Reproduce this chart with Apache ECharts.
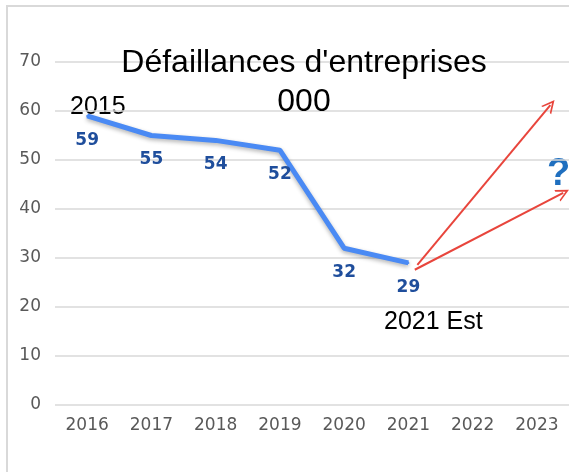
<!DOCTYPE html>
<html><head><meta charset="utf-8">
<script src="https://cdn.jsdelivr.net/npm/echarts@6/dist/echarts.min.js"></script>
<style>
html,body{margin:0;padding:0;background:#fff;overflow:hidden;}
#frame{position:absolute;left:6px;top:5px;width:640px;height:560px;border:2px solid #d9d9d9;box-sizing:border-box;}
#c{position:absolute;left:0;top:0;width:569px;height:472px;}
</style></head>
<body><div id="frame"></div><div id="c"></div>
<script>
const years = ['2016','2017','2018','2019','2020','2021','2022','2023'];
const values = [59, 55, 54, 52, 32, 29];
const yTicks = [0, 10, 20, 30, 40, 50, 60, 70];
// arrow annotations in [category index, value]
const arrowHigh = [[5.14, 28.6], [7.21, 61.2]];
const arrowLow = [[5.10, 27.6], [7.41, 43.3]];
const titleText = "Défaillances d'entreprises\n000";
const noteStart = '2015';
const noteEnd = '2021 Est';
const noteQ = '?';

const chart = echarts.init(document.getElementById('c'), null, {renderer:'canvas'});
const openArrow = 'path://M0,10 L5,0 L10,10 L8.6,10 L5,3 L1.4,10 Z';
chart.setOption({
  backgroundColor: 'transparent',
  animation: false,
  title: {
    text: titleText, left: 299, top: 39, textAlign: 'center',
    textStyle: {fontFamily: 'Liberation Sans, Arial', fontWeight: 'normal', fontSize: 32, color: '#000', lineHeight: 39}
  },
  grid: {left: 55, right: 0, top: 62, bottom: 67},
  xAxis: [{
    type: 'category', data: years, boundaryGap: true,
    axisLine: {show: false}, axisTick: {show: false},
    axisLabel: {color: '#595959', fontSize: 17, margin: 12, fontFamily: 'DejaVu Sans'}
  }, {
    type: 'value', min: -0.5, max: 7.5, show: false
  }],
  yAxis: {
    type: 'value', min: yTicks[0], max: yTicks[yTicks.length-1], interval: 10,
    axisLine: {show: false}, axisTick: {show: false},
    axisLabel: {color: '#595959', fontSize: 17, margin: 14, fontFamily: 'DejaVu Sans'},
    splitLine: {lineStyle: {color: '#d9d9d9', width: 1.5}}
  },
  series: [{
    type: 'line', data: values, xAxisIndex: 0,
    symbol: 'circle', symbolSize: 2, showSymbol: true,
    itemStyle: {color: '#4a8af4'},
    lineStyle: {color: '#4a8af4', width: 5, shadowColor: 'rgba(0,0,0,0.3)', shadowBlur: 4, shadowOffsetY: 2},
    label: {show: true, position: 'bottom', distance: 15, color: '#1f4e9c', fontWeight: 'bold', fontSize: 17, fontFamily: 'DejaVu Sans'}
  }, {
    type: 'lines', coordinateSystem: 'cartesian2d', xAxisIndex: 1, yAxisIndex: 0,
    symbol: ['none', openArrow], symbolSize: [15, 13],
    lineStyle: {color: '#e8453c', width: 2, opacity: 1, curveness: 0},
    data: [{coords: arrowHigh}, {coords: arrowLow}]
  }],
  graphic: [
    {type: 'text', left: 70, top: 95, style: {text: noteStart, font: '25px "Liberation Sans", Arial', fill: '#000'}},
    {type: 'text', left: 384, top: 310, style: {text: noteEnd, font: '25px "Liberation Sans", Arial', fill: '#000'}},
    {type: 'text', left: 547, top: 156, style: {text: noteQ, font: 'bold 38px "Liberation Sans", Arial', fill: '#1f6fbf'}}
  ]
});
</script></body></html>
